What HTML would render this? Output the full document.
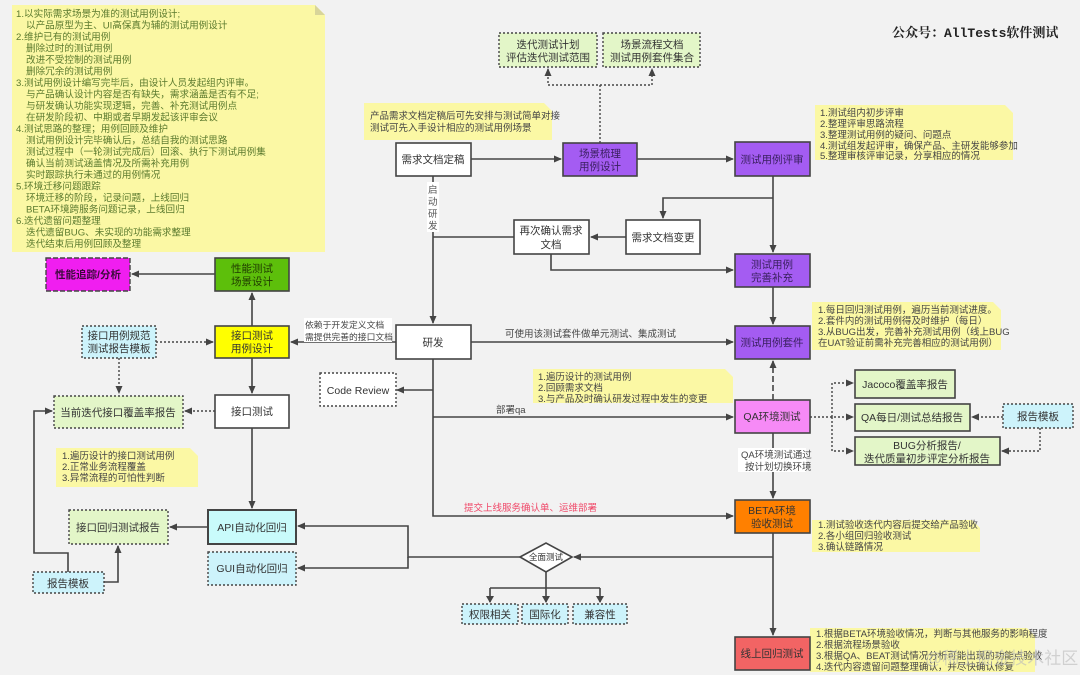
<!DOCTYPE html>
<html><head><meta charset="utf-8"><style>
html,body{margin:0;padding:0;background:#f2f2f2;}
svg{display:block;}
text{font-family:"Liberation Sans","Noto Sans CJK SC",sans-serif;font-size:10.5px;fill:#333;}
.n text{font-size:9.5px;fill:#444;}
.g text{fill:#5b7a2e;font-size:9.6px;}
</style></head><body>
<svg width="1080" height="675" viewBox="0 0 1080 675" xmlns="http://www.w3.org/2000/svg">
<defs>
<marker id="a" markerWidth="8" markerHeight="8" refX="7" refY="4" orient="auto" markerUnits="userSpaceOnUse"><path d="M0,0.5 L8,4 L0,7.5 Z" fill="#444"/></marker>
</defs>
<rect width="1080" height="675" fill="#f2f2f2"/>

<g>
<path d="M12,5 H315 L325,15 V252 H12 Z" fill="#fbf8a4"/><path d="M315,5 L325,15 H315 Z" fill="#d8d59a"/>
<path d="M364,103 H544 L552,111 V140 H364 Z" fill="#fbf8a4"/>
<path d="M815,105 H1005 L1013,113 V160 H815 Z" fill="#fbf8a4"/>
<path d="M812,302 H993 L1001,310 V350 H812 Z" fill="#fbf8a4"/>
<path d="M533,369 H725 L733,377 V403 H533 Z" fill="#fbf8a4"/>
<path d="M56,448 H190 L198,456 V487 H56 Z" fill="#fbf8a4"/>
<path d="M812,520 H972 L980,528 V552 H812 Z" fill="#fbf8a4"/>
<path d="M810,628 H1027 L1035,636 V672 H810 Z" fill="#fbf8a4"/>
</g>
<g class="g">
<text x="16" y="17">1.以实际需求场景为准的测试用例设计;</text>
<text x="26" y="28.5">以产品原型为主、UI高保真为辅的测试用例设计</text>
<text x="16" y="40">2.维护已有的测试用例</text>
<text x="26" y="51.5">删除过时的测试用例</text>
<text x="26" y="63">改进不受控制的测试用例</text>
<text x="26" y="74.5">删除冗余的测试用例</text>
<text x="16" y="86">3.测试用例设计编写完毕后，由设计人员发起组内评审。</text>
<text x="26" y="97.5">与产品确认设计内容是否有缺失，需求涵盖是否有不足;</text>
<text x="26" y="109">与研发确认功能实现逻辑，完善、补充测试用例点</text>
<text x="26" y="120.5">在研发阶段初、中期或者早期发起该评审会议</text>
<text x="16" y="132">4.测试思路的整理；用例回顾及维护</text>
<text x="26" y="143.5">测试用例设计完毕确认后，总结自我的测试思路</text>
<text x="26" y="155">测试过程中（一轮测试完成后）回滚、执行下测试用例集</text>
<text x="26" y="166.5">确认当前测试涵盖情况及所需补充用例</text>
<text x="26" y="178">实时跟踪执行未通过的用例情况</text>
<text x="16" y="189.5">5.环境迁移问题跟踪</text>
<text x="26" y="201">环境迁移的阶段，记录问题，上线回归</text>
<text x="26" y="212.5">BETA环境跨服务问题记录，上线回归</text>
<text x="16" y="224">6.迭代遗留问题整理</text>
<text x="26" y="235.5">迭代遗留BUG、未实现的功能需求整理</text>
<text x="26" y="247">迭代结束后用例回顾及整理</text>
</g>
<g class="n">
<text x="370" y="119">产品需求文档定稿后可先安排与测试简单对接</text>
<text x="370" y="131">测试可先入手设计相应的测试用例场景</text>
<text x="820" y="116">1.测试组内初步评审</text>
<text x="820" y="127">2.整理评审思路流程</text>
<text x="820" y="138">3.整理测试用例的疑问、问题点</text>
<text x="820" y="149">4.测试组发起评审，确保产品、主研发能够参加</text>
<text x="820" y="159">5.整理审核评审记录，分享相应的情况</text>
<text x="818" y="313">1.每日回归测试用例，遍历当前测试进度。</text>
<text x="818" y="324">2.套件内的测试用例得及时维护（每日）</text>
<text x="818" y="335">3.从BUG出发，完善补充测试用例（线上BUG</text>
<text x="818" y="346">在UAT验证前需补充完善相应的测试用例）</text>
<text x="538" y="380">1.遍历设计的测试用例</text>
<text x="538" y="391">2.回顾需求文档</text>
<text x="538" y="402">3.与产品及时确认研发过程中发生的变更</text>
<text x="62" y="459">1.遍历设计的接口测试用例</text>
<text x="62" y="470">2.正常业务流程覆盖</text>
<text x="62" y="481">3.异常流程的可怕性判断</text>
<text x="818" y="528">1.测试验收迭代内容后提交给产品验收</text>
<text x="818" y="539">2.各小组回归验收测试</text>
<text x="818" y="550">3.确认链路情况</text>
<text x="816" y="637">1.根据BETA环境验收情况，判断与其他服务的影响程度</text>
<text x="816" y="648">2.根据流程场景验收</text>
<text x="816" y="659">3.根据QA、BEAT测试情况分析可能出现的功能点验收</text>
<text x="816" y="670">4.迭代内容遗留问题整理确认，并尽快确认修复</text>
</g>

<g stroke="#444" stroke-width="1.6" fill="none">
<path d="M471,159 H561" marker-end="url(#a)"/>
<path d="M637,159 H733" marker-end="url(#a)"/>
<path d="M773,176 V252" marker-end="url(#a)"/>
<path d="M773,198 H663 V218" marker-end="url(#a)"/>
<path d="M626,237 H591" marker-end="url(#a)"/>
<path d="M551,254 V270 H733" marker-end="url(#a)"/>
<path d="M773,287 V324" marker-end="url(#a)"/>
<path d="M433,176 V323" marker-end="url(#a)"/>
<path d="M514,237 H433"/>
<path d="M471,342 H733" marker-end="url(#a)"/>
<path d="M396,342 H291" marker-end="url(#a)"/>
<path d="M433,359 V516 H733" marker-end="url(#a)"/>
<path d="M433,390 H397" marker-end="url(#a)"/>
<path d="M433,417 H733" marker-end="url(#a)"/>
<path d="M773,433 V498" marker-end="url(#a)"/>
<path d="M773,533 V635" marker-end="url(#a)"/>
<path d="M773,557 H574" marker-end="url(#a)"/>
<path d="M520,557 H408 V526 H298" marker-end="url(#a)"/>
<path d="M408,557 V568 H298" marker-end="url(#a)"/>
<path d="M546,572 V588 M490,588 H600 M490,588 V602 M546,588 V602 M600,588 V602"/>
<path d="M252,326 V293" marker-end="url(#a)"/>
<path d="M215,274 H132" marker-end="url(#a)"/>
<path d="M252,358 V393" marker-end="url(#a)"/>
<path d="M252,428 V508" marker-end="url(#a)"/>
<path d="M208,527 H170" marker-end="url(#a)"/>
<path d="M68,572 V553 H34 V411 H52" marker-end="url(#a)"/>
<path d="M104,582 H118 V546" marker-end="url(#a)"/>
</g>
<g fill="#444"><path d="M486,596 L494,596 L490,603Z M542,596 L550,596 L546,603Z M596,596 L604,596 L600,603Z"/></g>
<g stroke="#444" stroke-width="1.4" fill="none" stroke-dasharray="2,2">
<path d="M600,143 V85 H548 V69" marker-end="url(#a)"/>
<path d="M600,85 H652 V69" marker-end="url(#a)"/>
<path d="M156,342 H213" marker-end="url(#a)"/>
<path d="M119,358 V393" marker-end="url(#a)"/>
<path d="M215,411 H185" marker-end="url(#a)"/>
<path d="M810,417 H853" marker-end="url(#a)"/>
<path d="M832,417 V383 H853" marker-end="url(#a)"/>
<path d="M832,417 V451 H853" marker-end="url(#a)"/>
<path d="M1003,417 H972" marker-end="url(#a)"/>
<path d="M1040,428 V451 H1002" marker-end="url(#a)"/>
</g>
<path d="M773,400 V361" stroke="#444" stroke-width="1.6" stroke-dasharray="6,3" fill="none" marker-end="url(#a)"/>

<rect x="427" y="182" width="12" height="50" fill="#fff"/>
<text x="428" y="193" style="font-size:9.5px;fill:#555">启</text><text x="428" y="205" style="font-size:9.5px;fill:#555">动</text><text x="428" y="217" style="font-size:9.5px;fill:#555">研</text><text x="428" y="229" style="font-size:9.5px;fill:#555">发</text>
<text x="505" y="337" style="font-size:9.5px;fill:#444">可使用该测试套件做单元测试、集成测试</text>
<rect x="304" y="318" width="88" height="24" fill="#fff"/>
<text x="305" y="328" style="font-size:8.8px;fill:#444">依赖于开发定义文档</text>
<text x="305" y="340" style="font-size:8.8px;fill:#444">需提供完善的接口文档</text>
<text x="496" y="413" style="font-size:9.5px;fill:#444">部署qa</text>
<rect x="738" y="448" width="68" height="24" fill="#fff"/>
<text x="741" y="458" style="font-size:9.5px;fill:#444">QA环境测试通过</text>
<text x="745" y="470" style="font-size:9.5px;fill:#444">按计划切换环境</text>
<text x="464" y="511" style="font-size:9.5px;fill:#f04a6a">提交上线服务确认单、运维部署</text>

<g stroke="#444" stroke-width="1.6">
<rect x="396" y="143" width="75" height="33" fill="#fff"/>
<rect x="563" y="143" width="74" height="33" fill="#a45cf2"/>
<rect x="735" y="142" width="75" height="34" fill="#a45cf2"/>
<rect x="514" y="220" width="75" height="34" fill="#fff"/>
<rect x="626" y="220" width="74" height="34" fill="#fff"/>
<rect x="735" y="254" width="75" height="33" fill="#a45cf2"/>
<rect x="735" y="326" width="75" height="33" fill="#a45cf2"/>
<rect x="396" y="325" width="75" height="34" fill="#fff"/>
<rect x="215" y="258" width="74" height="33" fill="#5dbf0b"/>
<rect x="215" y="326" width="74" height="32" fill="#ffff00"/>
<rect x="215" y="395" width="74" height="33" fill="#fff"/>
<rect x="735" y="400" width="75" height="33" fill="#f68af6"/>
<rect x="735" y="500" width="75" height="33" fill="#ff8000"/>
<rect x="735" y="637" width="75" height="33" fill="#f26464"/>
<rect x="208" y="510" width="88" height="34" fill="#c9fbfb" stroke-width="2"/>
<rect x="855" y="370" width="100" height="28" fill="#e3f6c8"/>
<rect x="855" y="404" width="115" height="27" fill="#e3f6c8"/>
<rect x="855" y="437" width="145" height="28" fill="#e3f6c8"/>
<path d="M520,557 L546,543 L572,557 L546,572 Z" fill="#fff"/>
</g>
<g stroke="#444" stroke-width="1.4" stroke-dasharray="2,2">
<rect x="499" y="33" width="98" height="34" fill="#e3f6c8"/>
<rect x="603" y="33" width="97" height="34" fill="#e3f6c8"/>
<rect x="46" y="258" width="84" height="33" fill="#f01ef0" stroke-dasharray="5,2"/>
<rect x="82" y="326" width="74" height="32" fill="#cdf3fb"/>
<rect x="54" y="396" width="129" height="32" fill="#e3f6c8"/>
<rect x="320" y="373" width="76" height="33" fill="#fff"/>
<rect x="1003" y="404" width="70" height="24" fill="#cdf3fb"/>
<rect x="69" y="510" width="99" height="34" fill="#e3f6c8"/>
<rect x="33" y="572" width="71" height="21" fill="#cdf3fb"/>
<rect x="208" y="552" width="88" height="33" fill="#cdf3fb"/>
<rect x="462" y="604" width="56" height="20" fill="#cdf3fb"/>
<rect x="522" y="604" width="46" height="20" fill="#cdf3fb"/>
<rect x="573" y="604" width="54" height="20" fill="#cdf3fb"/>
</g>
<g text-anchor="middle">
<text x="433" y="163">需求文档定稿</text>
<text x="600" y="157" style="fill:#3a2060">场景梳理</text><text x="600" y="170" style="fill:#3a2060">用例设计</text>
<text x="772" y="163" style="fill:#3a2060">测试用例评审</text>
<text x="551" y="234">再次确认需求</text><text x="551" y="248">文档</text>
<text x="663" y="241">需求文档变更</text>
<text x="772" y="268" style="fill:#3a2060">测试用例</text><text x="772" y="281" style="fill:#3a2060">完善补充</text>
<text x="772" y="346" style="fill:#3a2060">测试用例套件</text>
<text x="433" y="346">研发</text>
<text x="548" y="48">迭代测试计划</text><text x="548" y="61">评估迭代测试范围</text>
<text x="652" y="48">场景流程文档</text><text x="652" y="61">测试用例套件集合</text>
<text x="88" y="278" style="font-weight:bold;fill:#3a0a3a">性能追踪/分析</text>
<text x="252" y="272" style="fill:#1f3a00">性能测试</text><text x="252" y="285" style="fill:#1f3a00">场景设计</text>
<text x="252" y="339">接口测试</text><text x="252" y="352">用例设计</text>
<text x="119" y="339">接口用例规范</text><text x="119" y="352">测试报告模板</text>
<text x="118" y="416">当前迭代接口覆盖率报告</text>
<text x="252" y="415">接口测试</text>
<text x="358" y="394">Code Review</text>
<text x="772" y="420">QA环境测试</text>
<text x="905" y="388">Jacoco覆盖率报告</text>
<text x="912" y="421">QA每日/测试总结报告</text>
<text x="927" y="449">BUG分析报告/</text><text x="927" y="462">迭代质量初步评定分析报告</text>
<text x="1038" y="420">报告模板</text>
<text x="772" y="514">BETA环境</text><text x="772" y="527">验收测试</text>
<text x="772" y="657">线上回归测试</text>
<text x="252" y="531">API自动化回归</text>
<text x="252" y="572">GUI自动化回归</text>
<text x="118" y="531">接口回归测试报告</text>
<text x="68" y="587">报告模板</text>
<text x="546" y="560" style="font-size:8.5px">全面测试</text>
<text x="490" y="618">权限相关</text><text x="545" y="618">国际化</text><text x="600" y="618">兼容性</text>
</g>
<text x="892" y="37" style="font-family:'Liberation Mono','Noto Serif CJK SC',serif;font-size:13px;font-weight:bold;fill:#222">公众号：AllTests软件测试</text>
<text x="925" y="664" style="font-size:17px;fill:#bbb;opacity:0.6">@稀土掘金技术社区</text>
</svg>
</body></html>
